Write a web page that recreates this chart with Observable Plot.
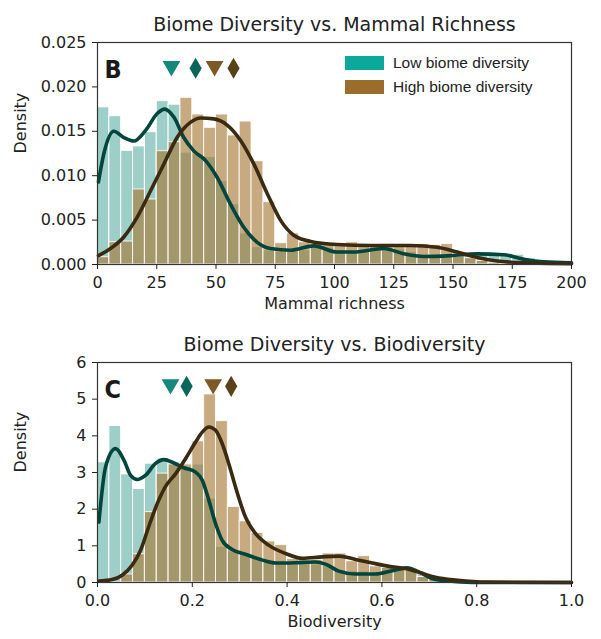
<!DOCTYPE html>
<html><head><meta charset="utf-8">
<script src="https://cdn.jsdelivr.net/npm/d3@7"></script>
<script src="https://cdn.jsdelivr.net/npm/@observablehq/plot@0.6"></script>
<style>
body{margin:0;background:#fff;}
#wrap{position:relative;width:601px;height:639px;overflow:hidden;}
#wrap svg{display:block;}
.leg{position:absolute;left:345px;font-family:"Liberation Sans",Arial,sans-serif;font-size:15.5px;color:#222;display:flex;align-items:center;}
.sw{display:inline-block;width:39px;height:14px;margin-right:9px;}
</style></head><body><div id="wrap"></div>
<script>
// ---------- Panel B data ----------
const titleB = "Biome Diversity vs. Mammal Richness";
const xLabelB = "Mammal richness";
const binWidthB = 5;
const lowB = [0.0177,0.0167,0.0128,0.0133,0.0149,0.0184,0.0180,0.0126,0.0124,0.0121,
  0.0094,0.0068,0.0035,0.00195,0.00158,0.0014,0.0014,0.0016,0.0020,0.0019,
  0.0016,0.0014,0.0015,0.0017,0.0018,0.0017,0.0014,0.0011,0.0011,0.0011,
  0.0010,0.0011,0.0012,0.0012,0.0012,0.0011,0.0007,0.0004,0.0002,0.0001];
const highB = [0.00082,0.00251,0.00259,0.00845,0.00732,0.01276,0.01377,0.01877,0.01689,0.01539,
  0.01689,0.01453,0.0161,0.01163,0.00702,0.0024,0.0035,0.0025,0.0023,0.0022,
  0.0021,0.0025,0.0023,0.0022,0.0023,0.0022,0.0021,0.0023,0.0022,0.0023,
  0.0009,0.0007,0.0004,0.0002,0.0001,0,0,0,0,0];
const kdeLowBx = [0.4,2.7,6.9,11.1,15.3,20.3,25.2,28.3,32.2,36.4,40.6,45.6,50.5,56.1,61.7,67.4,73,81.4,91.3,101.1,108.1,120.8,129.2,137.7,149,160.2,171.4,179.9,188.3,200];
const kdeLowBy = [0.0093,0.0125,0.0150,0.0143,0.0139,0.0151,0.0170,0.0175,0.0166,0.0143,0.0128,0.0117,0.0098,0.0068,0.0042,0.0025,0.0018,0.0016,0.0021,0.0014,0.0014,0.0018,0.0012,0.0009,0.0010,0.0012,0.0011,0.0006,0.0003,0.0002];
const kdeHighBx = [0.4,5.5,11.1,16.7,22.4,28,33.6,39.2,43.5,49.1,54.7,60.3,66,71.6,77.2,82.8,89.9,101.1,115.2,132.1,143.3,151.8,160.2,168.6,180,200];
const kdeHighBy = [0.0010,0.0018,0.0031,0.0053,0.0083,0.0113,0.0143,0.0160,0.0165,0.0164,0.0157,0.0140,0.0113,0.0080,0.0050,0.0033,0.0026,0.00225,0.00214,0.00214,0.00195,0.0014,0.0008,0.0004,0.0002,0.0001];
const markerBx = [31.2,41.4,49.4,57.4];
const markerBy = 0.0221;
const xTicksB = [0,25,50,75,100,125,150,175,200];
const yTicksB = [0,0.005,0.010,0.015,0.020,0.025];

// ---------- Panel C data ----------
const titleC = "Biome Diversity vs. Biodiversity";
const xLabelC = "Biodiversity";
const binWidthC = 0.025;
const lowC = [3.28,4.27,2.95,2.55,3.24,3.38,3.28,3.15,3.22,2.29,
  0.97,0.85,0.78,0.70,0.61,0.55,0.50,0.50,0.49,0.47,
  0.34,0.31,0.30,0.26,0.39,0.43,0.39,0.23,0.08,0.04,
  0.02,0.01,0,0,0,0,0,0,0,0];
const highC = [0,0,0.22,0.77,1.92,2.97,3.22,3.22,3.85,5.13,
  4.40,2.06,1.67,1.35,1.12,1.02,0.64,0.61,0.62,0.79,
  0.79,0.58,0.72,0.44,0.40,0.42,0.37,0.15,0.10,0.08,
  0.06,0.04,0.02,0.01,0,0,0,0,0,0];
const kdeLowCx = [0.003,0.017,0.038,0.056,0.070,0.084,0.101,0.122,0.140,0.161,0.182,0.207,0.221,0.235,0.249,0.263,0.284,0.312,0.348,0.376,0.418,0.46,0.481,0.509,0.544,0.586,0.622,0.653,0.678,0.706,0.74,0.79,1.0];
const kdeLowCy = [1.65,3.15,3.65,3.33,2.92,2.81,2.92,3.24,3.35,3.26,3.13,3.01,2.79,2.24,1.61,1.15,0.90,0.77,0.61,0.53,0.54,0.56,0.50,0.31,0.23,0.23,0.32,0.40,0.29,0.11,0.04,0.0,0.0];
const kdeHighCx = [0.003,0.031,0.052,0.073,0.091,0.108,0.126,0.143,0.165,0.186,0.207,0.221,0.235,0.249,0.263,0.277,0.291,0.312,0.333,0.361,0.397,0.432,0.474,0.509,0.544,0.580,0.615,0.650,0.685,0.713,0.76,0.82,1.0];
const kdeHighCy = [0.04,0.08,0.20,0.47,0.88,1.52,2.15,2.61,2.97,3.38,3.83,4.10,4.24,4.15,3.79,3.24,2.61,1.79,1.34,1.02,0.79,0.66,0.70,0.72,0.63,0.53,0.44,0.38,0.25,0.14,0.06,0.01,0.0];
const markerCx = [0.154,0.188,0.244,0.282];
const markerCy = 5.35;
const xTicksC = [0,0.2,0.4,0.6,0.8,1.0];
const yTicksC = [0,1,2,3,4,5,6];

const seriesNames = ["Low biome diversity","High biome diversity"];
const yLabel = "Density";

// ---------- styles ----------
const barTeal = "#168c7c", barBrown = "#a67632";
const lineTeal = "#00463d", lineBrown = "#3b2a12";
const markerColors = ["#12897a","#0b6659","#7f5925","#5b4119"];
const legendColors = ["#0aa99b","#9b6d2b"];

function panel(o){
  const bars = o.low.map((v,i)=>({x1:i*o.bw, x2:(i+1)*o.bw, low:v, high:o.high[i]}));
  const kl = o.klx.map((x,i)=>({x, y:o.kly[i]}));
  const kh = o.khx.map((x,i)=>({x, y:o.khy[i]}));
  const tri = [{x:o.mx[0], y:o.my, c:markerColors[0]},{x:o.mx[2], y:o.my, c:markerColors[2]}];
  const dia = [{x:o.mx[1], y:o.my, c:markerColors[1]},{x:o.mx[3], y:o.my, c:markerColors[3]}];
  const svg = Plot.plot({
    width: 601, height: o.height,
    marginLeft: 97, marginRight: 30, marginTop: 42, marginBottom: o.mb,
    style: {fontFamily: "DejaVu Sans, sans-serif", fontSize: "16px", color: "#222", background: "white"},
    x: {domain: o.xdom},
    y: {domain: o.ydom},
    marks: [
      Plot.rectY(bars, {x1:"x1", x2:"x2", y:"low", fill: barTeal, fillOpacity: 0.42, stroke: "white", strokeWidth: 1}),
      Plot.rectY(bars, {x1:"x1", x2:"x2", y:"high", fill: barBrown, fillOpacity: 0.62, stroke: "white", strokeWidth: 1, strokeOpacity: 0.85}),
      Plot.line(kl, {x:"x", y:"y", stroke: lineTeal, strokeWidth: 3.6, curve: "monotone-x"}),
      Plot.line(kh, {x:"x", y:"y", stroke: lineBrown, strokeWidth: 3.6, curve: "monotone-x"}),
      Plot.dot(tri, {x:"x", y:"y", symbol: "triangle", r: 6.6, rotate: 180, fill: d=>d.c, stroke: "none", dy: -2}),
      Plot.dot(dia, {x:"x", y:"y", symbol: "diamond", r: 6.4, fill: d=>d.c, stroke: "none"}),
      Plot.frame({stroke: "#333", strokeWidth: 1.2}),
      Plot.axisX({ticks: o.xticks, tickFormat: o.xfmt, tickSize: 5, tickPadding: 7, label: null, stroke: "#222"}),
      Plot.axisY({ticks: o.yticks, tickFormat: o.yfmt, tickSize: 5, tickPadding: 6, label: null, stroke: "#222"}),
      Plot.text([o.title], {frameAnchor: "top", dy: -25, fontSize: 19, fill: "#222"}),
      Plot.text([o.xlabel], {frameAnchor: "bottom", dy: 44, fontSize: 16, fill: "#222"}),
      Plot.text([yLabel], {frameAnchor: "left", dx: -77, rotate: -90, fontSize: 16, fill: "#222"}),
      Plot.text([o.letter], {frameAnchor: "top-left", dx: 7, dy: 18, fontSize: 25, fontWeight: "bold", fontFamily: "Liberation Sans Narrow, DejaVu Sans Condensed, DejaVu Sans", fill: "#1a1a1a", textAnchor: "start"})
    ]
  });
  d3.select(svg).selectAll("text").filter(function(){ return this.textContent === o.letter; })
    .style("font-stretch", "condensed");
  return svg;
}

const wrap = document.getElementById("wrap");
wrap.appendChild(panel({low: lowB, high: highB, bw: binWidthB, klx: kdeLowBx, kly: kdeLowBy, khx: kdeHighBx, khy: kdeHighBy,
  mx: markerBx, my: markerBy, xdom: [0,200], ydom: [0,0.025], xticks: xTicksB, yticks: yTicksB,
  xfmt: d3.format("d"), yfmt: d3.format(".3f"), title: titleB, xlabel: xLabelB, letter: "B", height: 320, mb: 56}));
wrap.appendChild(panel({low: lowC, high: highC, bw: binWidthC, klx: kdeLowCx, kly: kdeLowCy, khx: kdeHighCx, khy: kdeHighCy,
  mx: markerCx, my: markerCy, xdom: [0,1], ydom: [0,6], xticks: xTicksC, yticks: yTicksC,
  xfmt: d3.format(".1f"), yfmt: d3.format("d"), title: titleC, xlabel: xLabelC, letter: "C", height: 319, mb: 57}));

// legend (panel B)
seriesNames.forEach((name,i)=>{
  const d = document.createElement("div");
  d.className = "leg";
  d.style.top = (54 + i*24) + "px";
  d.innerHTML = `<span class="sw" style="background:${legendColors[i]}"></span><span>${name}</span>`;
  wrap.appendChild(d);
});
</script>
</body></html>
